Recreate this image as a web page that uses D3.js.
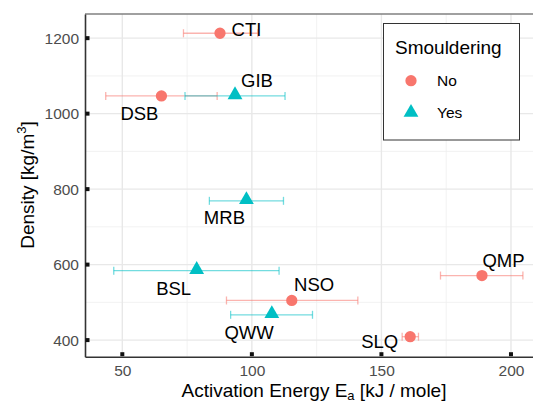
<!DOCTYPE html>
<html><head><meta charset="utf-8">
<script src="https://cdn.jsdelivr.net/npm/d3@7"></script>
<style>body{margin:0;background:#fff}svg{display:block}text{font-family:"Liberation Sans",Arial,sans-serif}</style>
</head><body>
<script>
const names   = ["CTI","DSB","GIB","MRB","BSL","NSO","QWW","QMP","SLQ"];
const smoulder= ["No","No","Yes","Yes","Yes","No","Yes","No","No"];
const energy  = [87.7, 65.1, 93.5, 97.9, 78.7, 115.4, 107.7, 188.8, 161.1];
const errLow  = [73.6, 43.6, 74.2, 83.6, 46.7, 90.2, 91.8, 172.8, 158.0];
const errHigh = [102.3, 86.6, 112.8, 112.2, 110.5, 140.9, 123.4, 204.6, 164.3];
const density = [1213, 1047, 1047, 769, 584, 505, 467, 571, 409];
// label offsets in px (repelled text placement)
const labelDx = [26.5, -22, 22, -22, -23, 22.3, -22.7, 21.6, -30.5];
const labelDy = [-3.3, 18, -15.6, 17, 18, -15.5, 18, -15, 5.3];
const xTicks = [50, 100, 150, 200];
const xMinor = [75, 125, 175];
const yTicks = [400, 600, 800, 1000, 1200];
const yMinor = [500, 700, 900, 1100];
const groups = ["No", "Yes"];
const colors = ["#F8766D", "#00BFC4"];

const W = 533, H = 404;
const svg = d3.select("body").append("svg").attr("width", W).attr("height", H);
const L = 85, R = 533, T = 14, B = 356.7;
const x = d3.scaleLinear().domain([35.6, 208.5]).range([L, R]);
const y = d3.scaleLinear().domain([356, 1264]).range([B, T]);
const col = d3.scaleOrdinal().domain(groups).range(colors);

// grid
const g = svg.append("g");
g.selectAll(".xm").data(xMinor).join("line").attr("x1", d => x(d)).attr("x2", d => x(d)).attr("y1", T).attr("y2", B).attr("stroke", "#EFEFEF").attr("stroke-width", 0.8);
g.selectAll(".ym").data(yMinor).join("line").attr("y1", d => y(d)).attr("y2", d => y(d)).attr("x1", L).attr("x2", R).attr("stroke", "#EFEFEF").attr("stroke-width", 0.8);
g.selectAll(".xM").data(xTicks).join("line").attr("x1", d => x(d)).attr("x2", d => x(d)).attr("y1", T).attr("y2", B).attr("stroke", "#E8E8E8").attr("stroke-width", 1.4);
g.selectAll(".yM").data(yTicks).join("line").attr("y1", d => y(d)).attr("y2", d => y(d)).attr("x1", L).attr("x2", R).attr("stroke", "#E8E8E8").attr("stroke-width", 1.4);

// top border
svg.append("line").attr("x1", L).attr("x2", R).attr("y1", T).attr("y2", T).attr("stroke", "#808080").attr("stroke-width", 1.6);

// axes
const xAxis = svg.append("g").attr("transform", `translate(0,${B})`)
  .call(d3.axisBottom(x).tickValues(xTicks).tickFormat(d3.format("d")).tickSize(0).tickPadding(8));
xAxis.select(".domain").attr("stroke", "#333").attr("stroke-width", 1.6);
xAxis.selectAll("text").attr("font-size", 15.5).attr("fill", "#4D4D4D").attr("dy", "0.71em");
const yAxis = svg.append("g").attr("transform", `translate(${L},0)`)
  .call(d3.axisLeft(y).tickValues(yTicks).tickFormat(d3.format("d")).tickSize(0).tickPadding(6));
yAxis.select(".domain").attr("stroke", "#333").attr("stroke-width", 1.6);
yAxis.selectAll("text").attr("font-size", 15.5).attr("fill", "#4D4D4D");
// small square tick marks
svg.selectAll(".xt").data(xTicks).join("rect").attr("x", d => x(d) - 2).attr("y", B - 4.5).attr("width", 4).attr("height", 4).attr("fill", "#111");
svg.selectAll(".yt").data(yTicks).join("rect").attr("x", L + 0.5).attr("y", d => y(d) - 2).attr("width", 4).attr("height", 4).attr("fill", "#111");

// data
const data = names.map((n, i) => ({n, s: smoulder[i], e: energy[i], lo: errLow[i], hi: errHigh[i], d: density[i], dx: labelDx[i], dy: labelDy[i]}));
const eb = svg.append("g").attr("stroke-width", 1.3).attr("stroke-opacity", 0.55);
data.forEach(p => {
  const c = col(p.s), yy = y(p.d);
  eb.append("line").attr("x1", x(p.lo)).attr("x2", x(p.hi)).attr("y1", yy).attr("y2", yy).attr("stroke", c);
  eb.append("line").attr("x1", x(p.lo)).attr("x2", x(p.lo)).attr("y1", yy - 4).attr("y2", yy + 4).attr("stroke", c);
  eb.append("line").attr("x1", x(p.hi)).attr("x2", x(p.hi)).attr("y1", yy - 4).attr("y2", yy + 4).attr("stroke", c);
});
const circ = d3.symbol().type(d3.symbolCircle).size(100);
const tri = d3.symbol().type(d3.symbolTriangle).size(95);
svg.append("g").selectAll("path").data(data).join("path")
  .attr("d", d => d.s === "No" ? circ() : tri())
  .attr("transform", d => `translate(${x(d.e)},${y(d.d) + (d.s === "Yes" ? -1 : 0)})`)
  .attr("fill", d => col(d.s));
svg.append("g").selectAll("text").data(data).join("text")
  .attr("x", d => x(d.e) + d.dx).attr("y", d => y(d.d) + d.dy + 6.4)
  .attr("text-anchor", "middle").attr("font-size", 18.5).attr("fill", "#000").text(d => d.n);

// axis titles
const xt = svg.append("text").attr("x", 314).attr("y", 396.5).attr("text-anchor", "middle").attr("font-size", 19).attr("fill", "#000");
xt.append("tspan").text("Activation Energy E");
xt.append("tspan").attr("font-size", 13).attr("dy", 3).text("a");
xt.append("tspan").attr("dy", -3).text(" [kJ / mole]");
const yt = svg.append("text").attr("transform", "translate(34,185) rotate(-90)").attr("text-anchor", "middle").attr("font-size", 19).attr("fill", "#000");
yt.append("tspan").text("Density [kg/m");
yt.append("tspan").attr("font-size", 13).attr("dy", -8).text("3");
yt.append("tspan").attr("dy", 8).text("]");

// legend
const lg = svg.append("g");
lg.append("rect").attr("x", 383.5).attr("y", 23.5).attr("width", 136).attr("height", 116.5).attr("fill", "#fff").attr("stroke", "#333").attr("stroke-width", 1);
lg.append("text").attr("x", 395).attr("y", 54).attr("font-size", 19).text("Smouldering");
groups.forEach((gname, i) => {
  const yy = [80.7, 112.5][i];
  lg.append("path").attr("d", i === 0 ? circ() : tri()).attr("transform", `translate(411,${yy})`).attr("fill", col(gname));
  lg.append("text").attr("x", 437).attr("y", yy + 5.5).attr("font-size", 15.5).text(gname);
});
</script>
</body></html>
